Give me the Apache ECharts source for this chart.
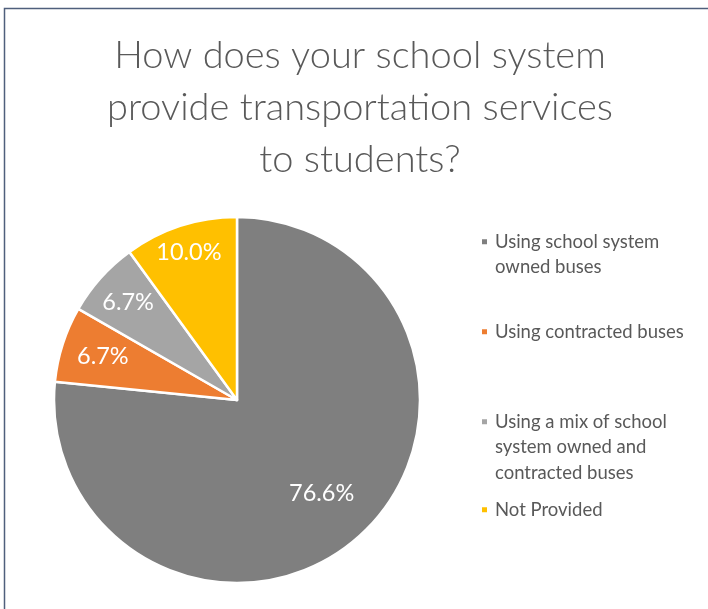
<!DOCTYPE html>
<html>
<head>
<meta charset="utf-8">
<script src="https://cdn.jsdelivr.net/npm/echarts@6/dist/echarts.min.js"></script>
<style>
  html, body { margin: 0; padding: 0; background: #ffffff; }
  #chart { width: 708px; height: 609px; }
</style>
</head>
<body>
<div id="chart"></div>
<script>
// Survey answers: how transportation is provided
const categories = [
  'Using school system owned buses',
  'Using contracted buses',
  'Using a mix of school system owned and contracted buses',
  'Not Provided'
];
const shares = [76.6, 6.7, 6.7, 10.0];
// Legend text with manual line breaks
const legendLabels = [
  'Using school system\nowned buses',
  'Using contracted buses',
  'Using a mix of school\nsystem owned and\ncontracted buses',
  'Not Provided'
];

const titleText = 'How does your school system\nprovide transportation services\nto students?';

// Styling
const sliceColors = ['#7f7f7f', '#ed7d31', '#a5a5a5', '#ffc000'];
const labelRadiusFrac = [0.69, 0.77, 0.80, 0.85];
const legendTops = [228, 318, 408, 496];
const FONT = 'Lato, "Noto Sans", sans-serif';
const LEGEND_LINE = 25.5;

const CX = 237, CY = 400, R = 183;

const chart = echarts.init(document.getElementById('chart'), null, { renderer: 'canvas' });

const total = shares.reduce((a, b) => a + b, 0);
function labelPoint(idx) {
  let before = 0;
  for (let i = 0; i < idx; i++) before += shares[i];
  const midFrac = (before + shares[idx] / 2) / total;
  const ang = midFrac * Math.PI * 2; // clockwise from 12 o'clock
  const rr = R * labelRadiusFrac[idx];
  return { x: CX + Math.sin(ang) * rr, y: CY - Math.cos(ang) * rr };
}

// Legend marker: small square beside the first text line, inside a box
// as tall as the whole (possibly wrapped) label.
function markerPath(w, h) {
  const s = 7;
  const y0 = LEGEND_LINE / 2 - s / 2;
  return 'path://M0,' + y0 + 'h' + s + 'v' + s + 'h-' + s + 'z' +
    'M0,0h0.02v0.02h-0.02z' +
    'M' + (w - 0.02) + ',' + (h - 0.02) + 'h0.02v0.02h-0.02z';
}

const legends = categories.map((name, i) => {
  const lines = legendLabels[i].split('\n').length;
  const w = 9, h = lines * LEGEND_LINE;
  return {
    left: 480,
    top: legendTops[i],
    padding: 0,
    orient: 'vertical',
    data: [name],
    icon: markerPath(w, h),
    itemWidth: w,
    itemHeight: h,
    itemGap: 0,
    selectedMode: false,
    formatter: () => legendLabels[i],
    textStyle: {
      fontFamily: FONT,
      fontSize: 18.5,
      color: '#595959',
      lineHeight: LEGEND_LINE
    }
  };
});

chart.setOption({
  animation: false,
  backgroundColor: '#ffffff',
  title: {
    text: titleText,
    left: 360,
    top: 30,
    padding: 0,
    textAlign: 'center',
    textStyle: {
      fontFamily: FONT,
      fontWeight: 300,
      fontSize: 38,
      lineHeight: 52,
      color: '#595959'
    }
  },
  legend: legends,
  graphic: [{
    type: 'polyline',
    silent: true,
    shape: { points: [[4.5, 609], [4.5, 8.5], [708, 8.5]] },
    style: { stroke: '#4f5f7c', lineWidth: 1.5, fill: null }
  }],
  series: [{
    type: 'pie',
    center: [CX, CY],
    radius: [0, R],
    startAngle: 90,
    clockwise: true,
    avoidLabelOverlap: false,
    itemStyle: { borderColor: '#ffffff', borderWidth: 2.5 },
    emphasis: { disabled: true },
    label: {
      show: true,
      position: 'inside',
      formatter: p => p.value.toFixed(1) + '%',
      color: '#ffffff',
      fontFamily: FONT,
      fontSize: 23.5,
      align: 'center',
      verticalAlign: 'middle'
    },
    labelLayout: p => {
      const pt = labelPoint(p.dataIndex);
      return { x: pt.x, y: pt.y, align: 'center', verticalAlign: 'middle' };
    },
    labelLine: { show: false },
    data: categories.map((name, i) => ({
      name: name,
      value: shares[i],
      itemStyle: { color: sliceColors[i] }
    }))
  }]
});
</script>
</body>
</html>
